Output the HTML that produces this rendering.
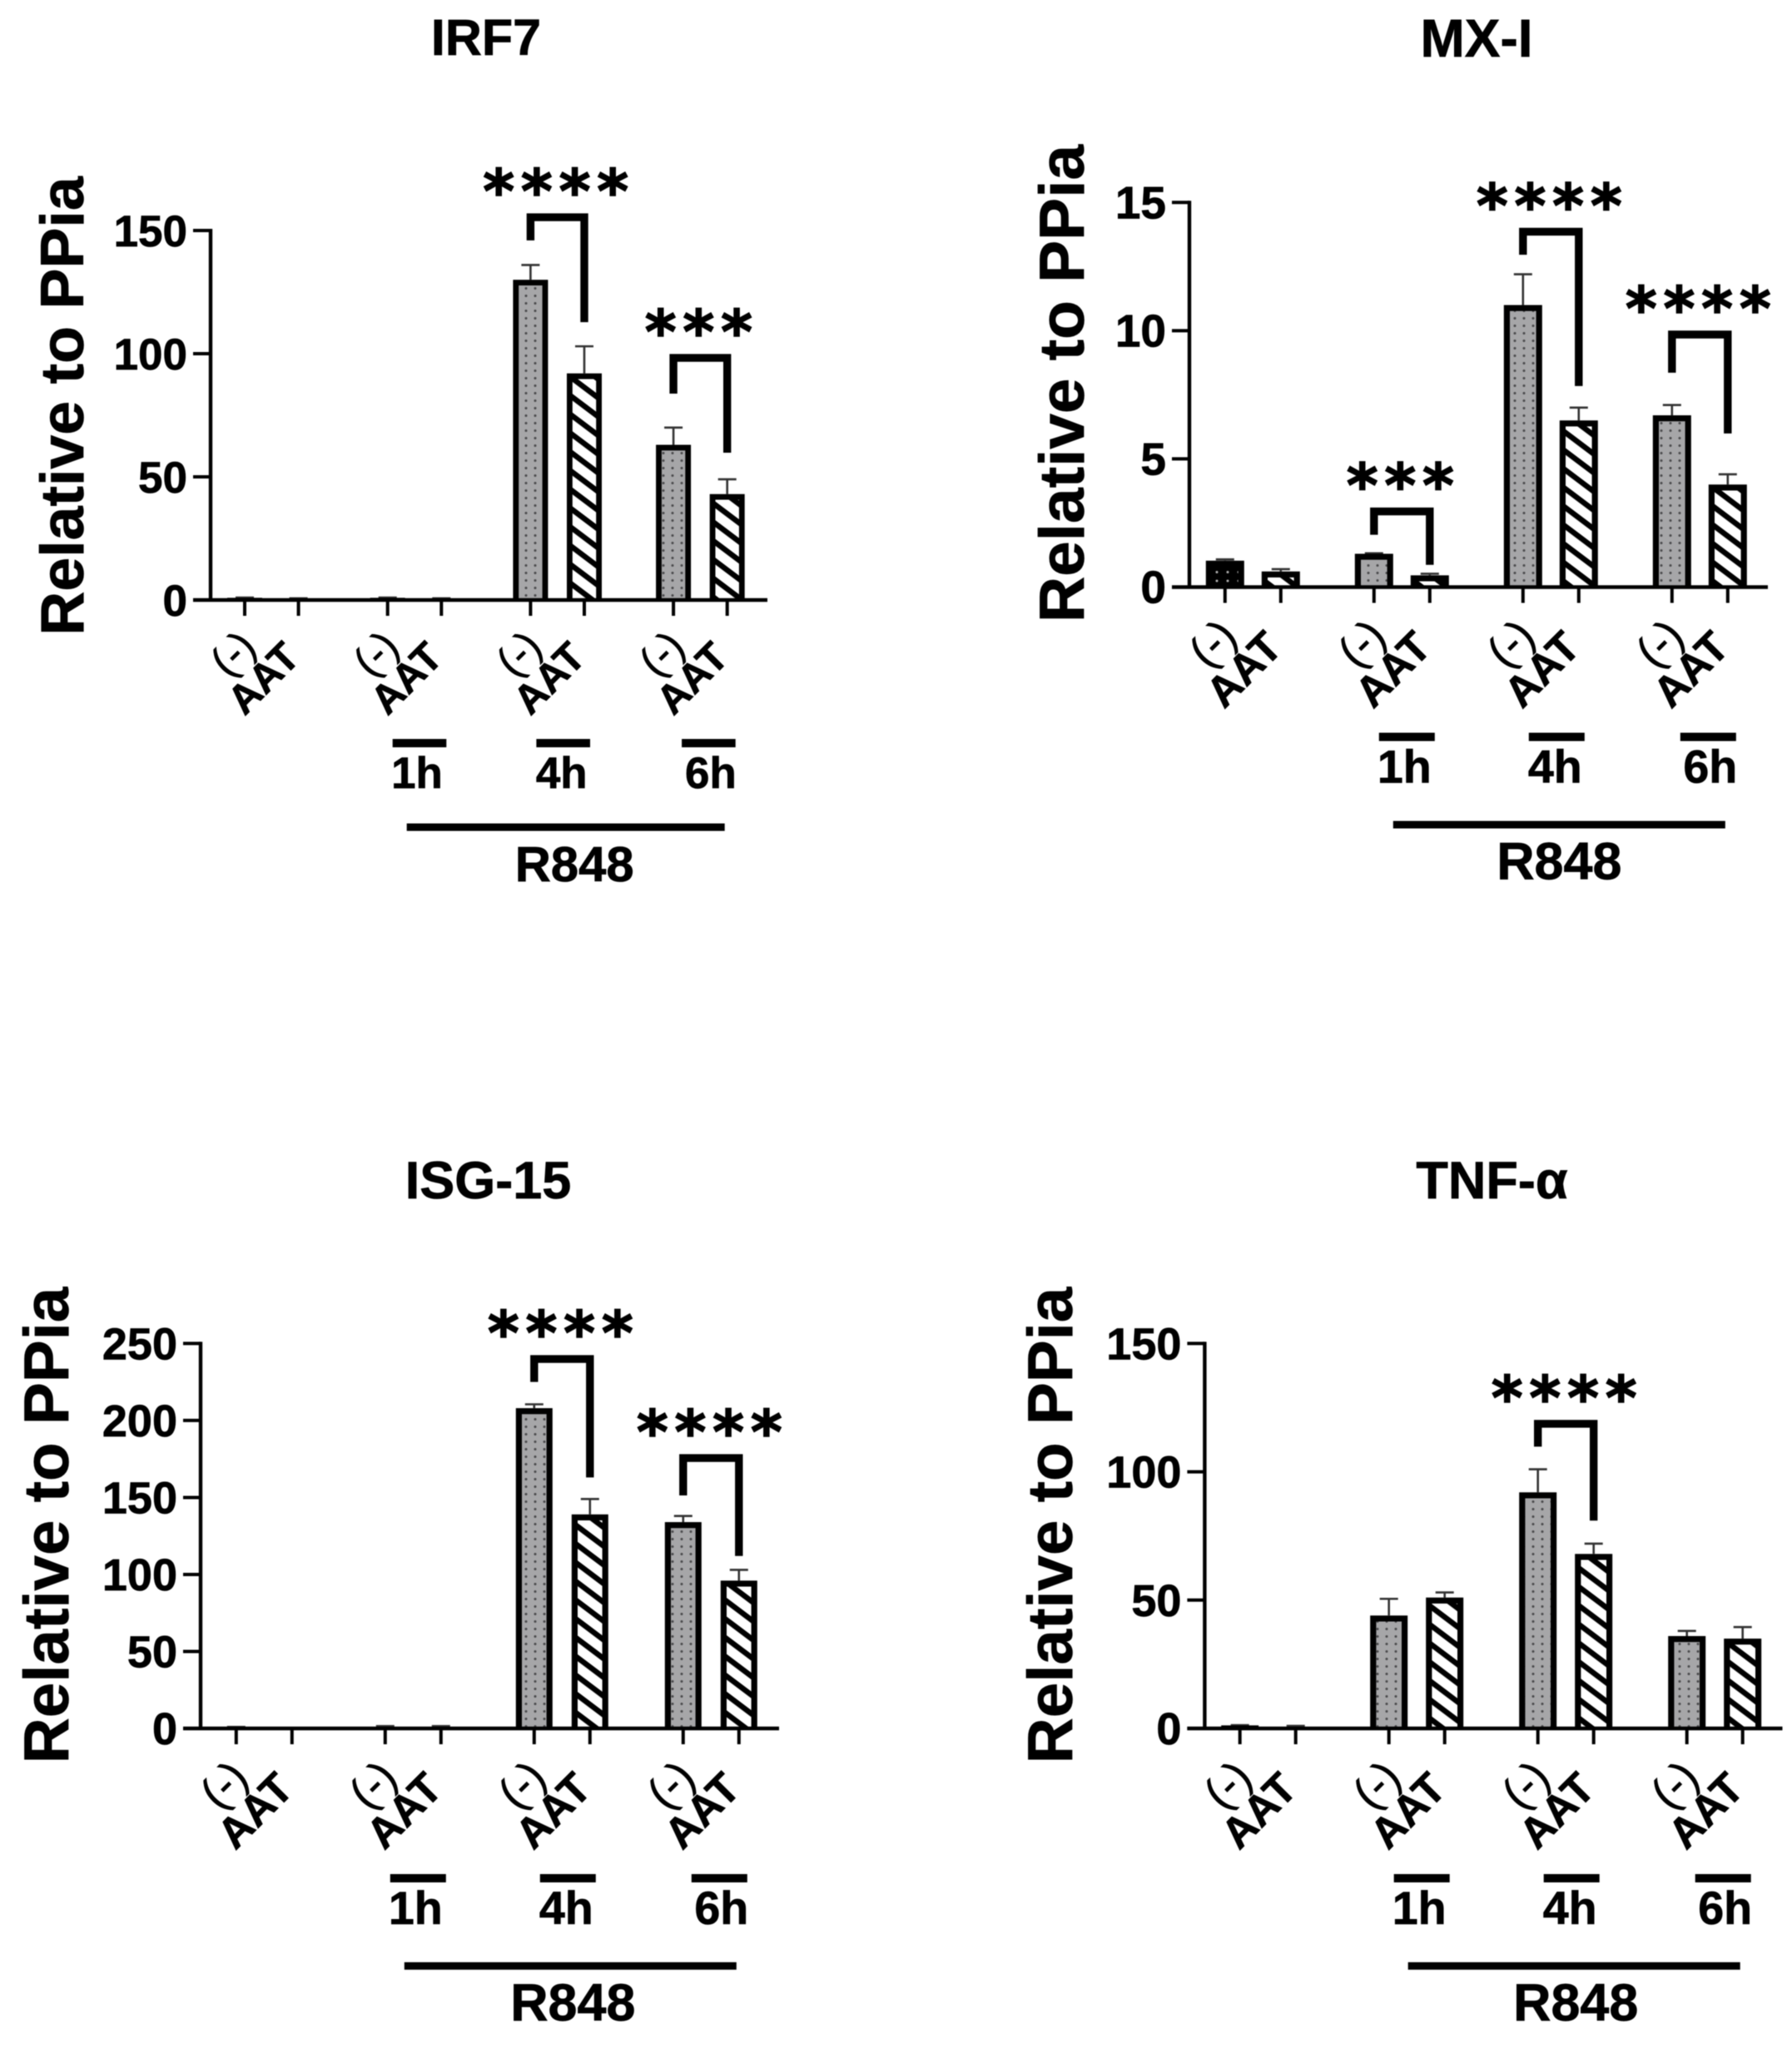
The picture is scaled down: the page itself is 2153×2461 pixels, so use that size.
<!DOCTYPE html>
<html lang="en">
<head>
<meta charset="utf-8">
<title>Gene expression relative to PPia</title>
<style>
html,body{margin:0;padding:0;background:#fff;}
svg{display:block;filter:blur(0.6px);}
text{font-family:"Liberation Sans",sans-serif;font-weight:bold;fill:#000;stroke:#000;stroke-width:0.7px;}
text.star{font-family:"DejaVu Sans",sans-serif;font-weight:bold;stroke-width:1.6px;}
text.paren{font-weight:normal;stroke-width:0.6px;}
</style>
</head>
<body>
<svg id="figure" xmlns="http://www.w3.org/2000/svg" width="2153" height="2461" viewBox="0 0 2153 2461">
  <defs>
    <pattern id="dots" patternUnits="userSpaceOnUse" width="11" height="9">
      <rect width="11" height="9" fill="#a6a6a8"/>
      <circle cx="5" cy="4.5" r="1.5" fill="#4a4a4c"/>
    </pattern>
    <pattern id="dots-dark" patternUnits="userSpaceOnUse" width="13" height="10.5">
      <rect width="13" height="10.5" fill="#000"/>
      <circle cx="6" cy="5" r="1.5" fill="#b0b0b0"/>
    </pattern>
    <pattern id="hatch" patternUnits="userSpaceOnUse" width="18" height="18" patternTransform="rotate(37)">
      <rect width="18" height="18" fill="#fff"/>
      <rect y="0" width="18" height="6.6" fill="#000"/>
    </pattern>
  </defs>
  <rect width="2153" height="2461" fill="#fff"/>
  <text x="584" y="66" font-size="61" text-anchor="middle">IRF7</text>
  <text x="1774" y="68" font-size="64" text-anchor="middle">MX-I</text>
  <text x="586.5" y="1440" font-size="63" text-anchor="middle">ISG-15</text>
  <text x="1792.5" y="1440" font-size="63" text-anchor="middle">TNF-α</text>
  <text font-size="73.5" text-anchor="middle" transform="translate(100 488) rotate(-90)">Relative to PPia</text>
  <text font-size="76.5" text-anchor="middle" transform="translate(1302 461) rotate(-90)">Relative to PPia</text>
  <text font-size="76.3" text-anchor="middle" transform="translate(82 1833) rotate(-90)">Relative to PPia</text>
  <text font-size="76.3" text-anchor="middle" transform="translate(1288 1833) rotate(-90)">Relative to PPia</text>
</svg>
<script>
// ---- shared categories ----
const barLabels = ["(-)", "AAT", "(-)", "AAT", "(-)", "AAT", "(-)", "AAT"];
const timeLabels = ["1h", "4h", "6h"];
const treatmentLabel = "R848";

// ---- IRF7 ----
const irf7Values = [0.9, 0.3, 0.9, 0.3, 130, 92, 63, 43];
const irf7ErrorTops = [1, 0.7, 1, 0.7, 136, 103, 70, 49];
const irf7Ticks = [0, 50, 100, 150];
const irf7SigBars = [4, 6];
const irf7SigLabels = ["****", "***"];
const irf7SigTops = [155.4, 98.3];
const irf7SigLeft = [146, 83.8];
const irf7SigRight = [112.8, 59.8];

// ---- MX-I ----
const mx1Values = [1.03, 0.61, 1.3, 0.46, 11, 6.5, 6.7, 4];
const mx1ErrorTops = [1.08, 0.7, 1.32, 0.52, 12.2, 7, 7.1, 4.4];
const mx1Ticks = [0, 5, 10, 15];
const mx1SigBars = [2, 4, 6];
const mx1SigLabels = ["***", "****", "****"];
const mx1SigTops = [2.95, 13.86, 9.85];
const mx1SigLeft = [2.04, 12.96, 8.36];
const mx1SigRight = [0.87, 7.84, 5.99];

// ---- ISG-15 ----
const isg15Values = [0.3, 0.2, 0.5, 0.5, 208, 139, 134, 96];
const isg15ErrorTops = [1, 0.3, 1.5, 1.5, 210.5, 149, 138, 103];
const isg15Ticks = [0, 50, 100, 150, 200, 250];
const isg15SigBars = [4, 6];
const isg15SigLabels = ["****", "****"];
const isg15SigTops = [239.9, 175.6];
const isg15SigLeft = [225, 151.3];
const isg15SigRight = [163, 112];

// ---- TNF-alpha ----
const tnfValues = [1.2, 0.3, 44, 51, 92, 68, 36, 35];
const tnfErrorTops = [1.3, 1, 50.5, 53, 101, 72, 38, 39.5];
const tnfTicks = [0, 50, 100, 150];
const tnfSigBars = [4];
const tnfSigLabels = ["****"];
const tnfSigTops = [118.7];
const tnfSigLeft = [109.8];
const tnfSigRight = [81];

const svgNS = "http://www.w3.org/2000/svg";
const figure = document.getElementById("figure");

function shape(tag, attrs, text) {
  const el = document.createElementNS(svgNS, tag);
  for (const k in attrs) el.setAttribute(k, attrs[k]);
  if (text !== undefined) el.textContent = text;
  figure.appendChild(el);
  return el;
}

function drawPanel(p) {
  const yOf = v => p.y0 - (v / p.yMax) * (p.y0 - p.yTop);
  const xOf = i => p.x0 + Math.floor(i / 2) * p.groupStep + (i % 2) * p.barStep;
  const right = p.axisRight;

  // bars and error whiskers
  p.values.forEach((v, i) => {
    const cx = xOf(i), top = yOf(v), hw = p.barWidth / 2, sw = p.barStroke;
    const err = shape("path", {
      d: "M" + cx + " " + top + "V" + yOf(p.errorTops[i]) + "M" + (cx - 11) + " " + yOf(p.errorTops[i]) + "H" + (cx + 11),
      stroke: "#333", "stroke-width": 2.6, fill: "none"
    });
    
    
    const outer = shape("rect", { x: cx - hw, y: top, width: p.barWidth, height: p.y0 - top, fill: "#000" });
    
    
    if (p.y0 - top > sw) {
      const fill = i % 2 ? "url(#hatch)" : (p.darkFirstBar && i === 0 ? "url(#dots-dark)" : "url(#dots)");
      const inner = shape("rect", {
        x: cx - hw + sw, y: top + sw, width: p.barWidth - 2 * sw, height: p.y0 - top - sw,
        fill: fill
      });
      
      
    }
  });

  // axes
  const yAxis = shape("line", { x1: p.axisX, x2: p.axisX, y1: yOf(p.yMax) - 2, y2: p.y0 + 2, stroke: "#000", "stroke-width": 4.4 });
  
  
  const xAxis = shape("line", { x1: p.axisX - 21, x2: right, y1: p.y0, y2: p.y0, stroke: "#000", "stroke-width": 4.5 });
  
  

  // y ticks
  p.ticks.forEach(t => {
    const tick = shape("line", { x1: p.axisX - 21, x2: p.axisX, y1: yOf(t), y2: yOf(t), stroke: "#000", "stroke-width": 4 });
    
    
    const lab = shape("text", { x: p.axisX - 28, y: yOf(t) + 19, "font-size": p.tickFont, "text-anchor": "end" }, String(t));
    
    
  });

  // x ticks and rotated labels
  barLabels.forEach((label, i) => {
    const cx = xOf(i);
    const tick = shape("line", { x1: cx, x2: cx, y1: p.y0, y2: p.y0 + 19, stroke: "#000", "stroke-width": 4 });
    
    
    const lx = cx + (i % 2 ? -31 : -2) * p.scale;
    const ly = p.y0 + (i % 2 ? 108 : 78) * p.scale;
    const lab = shape("text", {
      class: i % 2 ? "aat" : "paren",
      "font-size": (i % 2 ? 50 : 52) * p.scale, "text-anchor": "middle",
      transform: "translate(" + lx + " " + ly + ") rotate(-45)"
    }, label);
    
    
  });

  // significance brackets
  p.sigBars.forEach((b, k) => {
    const xl = xOf(b), xr = xOf(b + 1), yt = yOf(p.sigTops[k]);
    const br = shape("path", {
      d: "M" + xl + " " + yOf(p.sigLeft[k]) + "V" + yt + "H" + xr + "V" + yOf(p.sigRight[k]),
      fill: "none", stroke: "#000", "stroke-width": 9.4
    });
    
    
    const st = shape("text", {
      class: "star", x: (xl + xr) / 2 + 2, y: yt - 42 + 36, "font-size": 72,
      "letter-spacing": 8, "text-anchor": "middle"
    }, p.sigLabels[k]);
    
    
  });

  // time-point bars and labels
  const timeBarOffset = [6, 7, 10];
  const timeLabelOffset = [-3, -2, 2.5];
  timeLabels.forEach((label, g) => {
    const a = xOf(2 * (g + 1)) + timeBarOffset[g];
    const b = xOf(2 * (g + 1) + 1) + timeBarOffset[g];
    const bar = shape("rect", { x: a, y: p.y0 + p.timeBarDy - 5, width: b - a, height: 10, fill: "#000" });
    
    
    const lab = shape("text", {
      x: (a + b) / 2 + timeLabelOffset[g], y: p.y0 + p.timeLabelDy, "font-size": 54 * p.scale, "text-anchor": "middle"
    }, label);
    
    
  });

  // treatment bar and label
  const ra = xOf(2) + 23, rb = xOf(7) - 3;
  const rBar = shape("rect", { x: ra, y: p.y0 + p.treatBarDy - 4.5, width: rb - ra, height: 9, fill: "#000" });
  
  
  const rLab = shape("text", {
    x: (ra + rb) / 2 + p.treatLabelShift, y: p.y0 + p.treatLabelDy, "font-size": 61 * p.scale, "text-anchor": "middle"
  }, treatmentLabel);
  
  
}

drawPanel({ id: "irf7", values: irf7Values, errorTops: irf7ErrorTops, ticks: irf7Ticks,
  sigBars: irf7SigBars, sigLabels: irf7SigLabels, sigTops: irf7SigTops, sigLeft: irf7SigLeft, sigRight: irf7SigRight,
  x0: 294, groupStep: 171.7, barStep: 64.6, y0: 721, yTop: 277, yMax: 150, axisX: 253, axisRight: 922,
  tickFont: 53, barWidth: 42, barStroke: 6.8, scale: 0.98, timeBarDy: 172, timeLabelDy: 226, treatBarDy: 273, treatLabelDy: 338, treatLabelShift: 10.5 });

drawPanel({ id: "mx1", values: mx1Values, errorTops: mx1ErrorTops, ticks: mx1Ticks, darkFirstBar: true,
  sigBars: mx1SigBars, sigLabels: mx1SigLabels, sigTops: mx1SigTops, sigLeft: mx1SigLeft, sigRight: mx1SigRight,
  x0: 1471.8, groupStep: 179, barStep: 67, y0: 705.5, yTop: 243.3, yMax: 15, axisX: 1429, axisRight: 2124,
  tickFont: 55, barWidth: 46, barStroke: 7.2, scale: 1.03, timeBarDy: 180, timeLabelDy: 235, treatBarDy: 285.5, treatLabelDy: 351, treatLabelShift: 0 });

drawPanel({ id: "isg15", values: isg15Values, errorTops: isg15ErrorTops, ticks: isg15Ticks,
  sigBars: isg15SigBars, sigLabels: isg15SigLabels, sigTops: isg15SigTops, sigLeft: isg15SigLeft, sigRight: isg15SigRight,
  x0: 283.8, groupStep: 179, barStep: 67, y0: 2077, yTop: 1614.4, yMax: 250, axisX: 241, axisRight: 936,
  tickFont: 54, barWidth: 44, barStroke: 7.2, scale: 1.03, timeBarDy: 180, timeLabelDy: 235, treatBarDy: 285.4, treatLabelDy: 351, treatLabelShift: 3 });

drawPanel({ id: "tnf", values: tnfValues, errorTops: tnfErrorTops, ticks: tnfTicks,
  sigBars: tnfSigBars, sigLabels: tnfSigLabels, sigTops: tnfSigTops, sigLeft: tnfSigLeft, sigRight: tnfSigRight,
  x0: 1489.7, groupStep: 179, barStep: 67, y0: 2077, yTop: 1614.4, yMax: 150, axisX: 1447.4, axisRight: 2141.5,
  tickFont: 54, barWidth: 45, barStroke: 7.2, scale: 1.03, timeBarDy: 180, timeLabelDy: 235, treatBarDy: 285.4, treatLabelDy: 351, treatLabelShift: 2 });
</script>
</body>
</html>
